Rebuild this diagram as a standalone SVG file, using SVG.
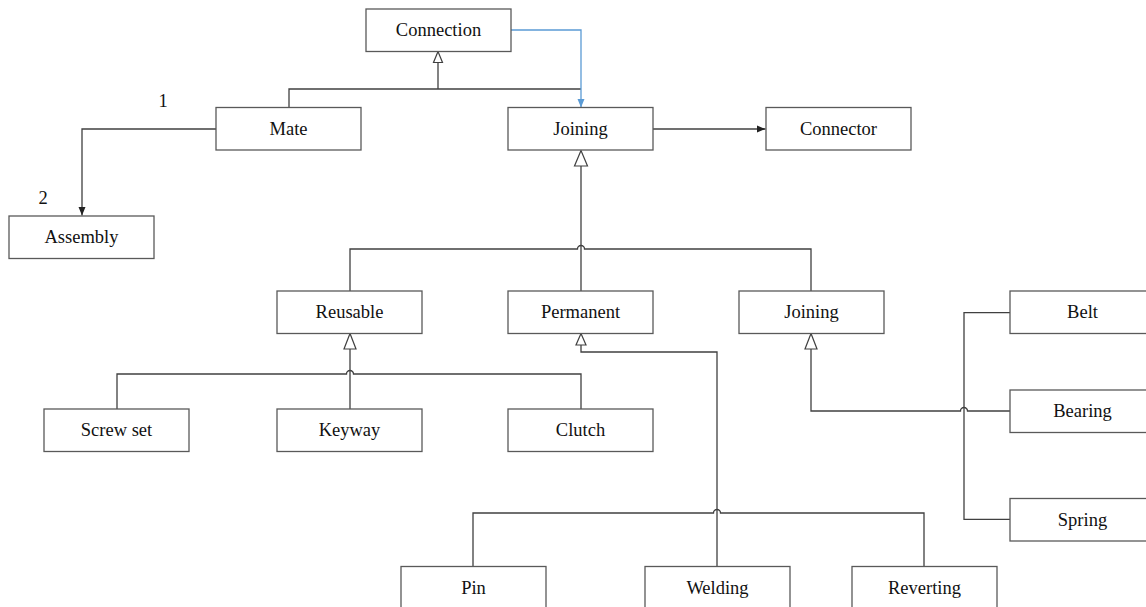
<svg xmlns="http://www.w3.org/2000/svg" width="1146" height="607" viewBox="0 0 1146 607">
  <style>
    .box { fill: #ffffff; stroke: #595959; stroke-width: 1.3; }
    .lbl { font-family: "Liberation Serif", "Times New Roman", serif; font-size: 18.5px; fill: #111111; text-anchor: middle; }
    .edge { fill: none; stroke: #404040; stroke-width: 1.3; }
    .blue { fill: none; stroke: #5B9BD5; stroke-width: 1.3; }
    .hollow { fill: #ffffff; stroke: #404040; stroke-width: 1.2; }
  </style>
  <defs>
    <marker id="arrowFilled" markerWidth="9" markerHeight="8" refX="8.5" refY="4" orient="auto" markerUnits="userSpaceOnUse">
      <path d="M0,0.5 L8.5,4 L0,7.5 Z" fill="#222222"/>
    </marker>
    <marker id="arrowBlue" markerWidth="9" markerHeight="8" refX="8.5" refY="4" orient="auto" markerUnits="userSpaceOnUse">
      <path d="M0,0.5 L8.5,4 L0,7.5 Z" fill="#5B9BD5"/>
    </marker>
  </defs>

  <!-- connectors -->
  <g id="connectors">
    <!-- Mate generalizes Connection -->
    <path class="edge" d="M289,108 V89 H581"/>
    <path class="edge" d="M438,89 V62"/>
    <path class="hollow" d="M438,51.5 L433.5,62.5 L442.5,62.5 Z"/>
    <!-- Connection to Joining (blue) -->
    <path class="blue" d="M511,30 H581 V107.5" marker-end="url(#arrowBlue)"/>
    <!-- Mate to Assembly -->
    <path class="edge" d="M216,129 H82 V215.5" marker-end="url(#arrowFilled)"/>
    <!-- Joining to Connector -->
    <path class="edge" d="M653,129 H765.5" marker-end="url(#arrowFilled)"/>

    <!-- Reusable / Permanent / Joining generalize Joining -->
    <path class="edge" d="M350,291 V249 H577.5 A3.5,3.5 0 0 1 584.5,249 H811 V291"/>
    <path class="edge" d="M581,291 V166"/>
    <path class="hollow" d="M581,150.5 L574.5,166 L587.5,166 Z"/>

    <!-- Screw set / Keyway / Clutch generalize Reusable -->
    <path class="edge" d="M117,409 V374 H346.5 A3.5,3.5 0 0 1 353.5,374 H581 V409"/>
    <path class="edge" d="M350,409 V349"/>
    <path class="hollow" d="M350,333.5 L344,349 L356,349 Z"/>

    <!-- Pin / Welding / Reverting generalize Permanent -->
    <path class="edge" d="M473,566 V513 H713.5 A3.5,3.5 0 0 1 720.5,513 H924 V566"/>
    <path class="edge" d="M717,566 V352 H581 V345"/>
    <path class="hollow" d="M581,333.5 L576,345 L586,345 Z"/>

    <!-- Belt / Bearing / Spring generalize Joining -->
    <path class="edge" d="M1010,312.7 H964 V519.3 H1010"/>
    <path class="edge" d="M1010,411 H967.5 A3.5,3.5 0 0 0 960.5,411 H811 V349"/>
    <path class="hollow" d="M811,333.5 L805,349 L817,349 Z"/>
  </g>

  <!-- multiplicities -->
  <text class="lbl" x="163" y="107">1</text>
  <text class="lbl" x="43" y="204">2</text>

  <!-- nodes -->
  <g id="connection"><rect class="box" x="366" y="9" width="145" height="42.5"/><text class="lbl" x="438.5" y="36">Connection</text></g>
  <g id="mate"><rect class="box" x="216" y="107.5" width="145" height="42.5"/><text class="lbl" x="288.5" y="134.5">Mate</text></g>
  <g id="joining-top"><rect class="box" x="508" y="107.5" width="145" height="42.5"/><text class="lbl" x="580.5" y="134.5">Joining</text></g>
  <g id="connector"><rect class="box" x="766" y="107.5" width="145" height="42.5"/><text class="lbl" x="838.5" y="134.5">Connector</text></g>
  <g id="assembly"><rect class="box" x="9" y="216" width="145" height="42.5"/><text class="lbl" x="81.5" y="243">Assembly</text></g>
  <g id="reusable"><rect class="box" x="277" y="291" width="145" height="42.5"/><text class="lbl" x="349.5" y="318">Reusable</text></g>
  <g id="permanent"><rect class="box" x="508" y="291" width="145" height="42.5"/><text class="lbl" x="580.5" y="318">Permanent</text></g>
  <g id="joining-mid"><rect class="box" x="739" y="291" width="145" height="42.5"/><text class="lbl" x="811.5" y="318">Joining</text></g>
  <g id="belt"><rect class="box" x="1010" y="291" width="145" height="42.5"/><text class="lbl" x="1082.5" y="318">Belt</text></g>
  <g id="bearing"><rect class="box" x="1010" y="390" width="145" height="42.5"/><text class="lbl" x="1082.5" y="417">Bearing</text></g>
  <g id="spring"><rect class="box" x="1010" y="498.5" width="145" height="42.5"/><text class="lbl" x="1082.5" y="525.5">Spring</text></g>
  <g id="screw-set"><rect class="box" x="44" y="409" width="145" height="42.5"/><text class="lbl" x="116.5" y="436">Screw set</text></g>
  <g id="keyway"><rect class="box" x="277" y="409" width="145" height="42.5"/><text class="lbl" x="349.5" y="436">Keyway</text></g>
  <g id="clutch"><rect class="box" x="508" y="409" width="145" height="42.5"/><text class="lbl" x="580.5" y="436">Clutch</text></g>
  <g id="pin"><rect class="box" x="401" y="566.5" width="145" height="42.5"/><text class="lbl" x="473.5" y="593.5">Pin</text></g>
  <g id="welding"><rect class="box" x="645" y="566.5" width="145" height="42.5"/><text class="lbl" x="717.5" y="593.5">Welding</text></g>
  <g id="reverting"><rect class="box" x="852" y="566.5" width="145" height="42.5"/><text class="lbl" x="924.5" y="593.5">Reverting</text></g>
</svg>
